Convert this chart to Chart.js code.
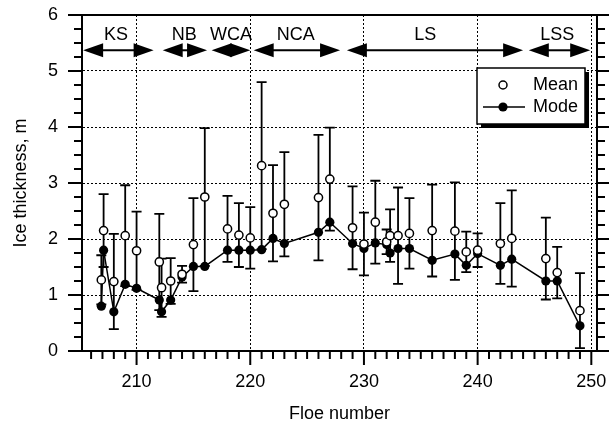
<!DOCTYPE html>
<html>
<head>
<meta charset="utf-8">
<script src="https://cdn.jsdelivr.net/npm/chart.js@4.4.1/dist/chart.umd.min.js"></script>
<style>
html, body { margin: 0; padding: 0; background: #fff; }
</style>
</head>
<body>
<canvas id="ice" width="609" height="429"></canvas>
<script>
// floe numbers (two floes sampled twice are slightly offset)
var floes = [206.9, 207.1, 208, 209, 210, 212, 212.2, 213, 214, 215, 216,
             218, 219, 220, 221, 222, 223, 226, 227, 229, 230, 231, 232, 232.3,
             233, 234, 236, 238, 239, 240, 242, 243, 246, 247, 249];
var meanThickness = [1.27, 2.15, 1.24, 2.06, 1.79, 1.59, 1.13, 1.25, 1.37, 1.90, 2.75,
                     2.18, 2.07, 2.02, 3.31, 2.46, 2.62, 2.74, 3.07, 2.20, 1.91, 2.30, 1.95, 2.06,
                     2.06, 2.10, 2.15, 2.14, 1.77, 1.80, 1.92, 2.01, 1.65, 1.40, 0.72];
var sdThickness = [0.44, 0.65, 0.85, 0.90, 0.70, 0.86, 0.52, 0.41, 0.15, 0.83, 1.23,
                   0.59, 0.57, 0.55, 1.49, 0.86, 0.93, 1.12, 0.92, 0.74, 0.56, 0.74, 0.22, 0.47,
                   0.86, 0.63, 0.82, 0.87, 0.36, 0.30, 0.72, 0.86, 0.73, 0.46, 0.67];
var modeThickness = [0.80, 1.80, 0.70, 1.19, 1.12, 0.91, 0.70, 0.91, 1.32, 1.51, 1.51,
                     1.80, 1.80, 1.80, 1.81, 2.01, 1.92, 2.12, 2.30, 1.92, 1.83, 1.93, 1.90, 1.75,
                     1.83, 1.83, 1.62, 1.73, 1.53, 1.74, 1.53, 1.64, 1.25, 1.25, 0.45];

var regionNames = ['KS', 'NB', 'WCA', 'NCA', 'LS', 'LSS'];
var regionFrom = [205.3, 212.3, 216.6, 220.3, 228.5, 244.5];
var regionTo = [211.5, 216.2, 220.0, 227.9, 244.0, 249.9];
var regionLabelAt = [208.2, 214.2, 218.3, 224.0, 235.4, 247.0];

var xTickValues = [210, 220, 230, 240, 250];
var yTickValues = [0, 1, 2, 3, 4, 5, 6];

var FONT = '"Liberation Sans", Arial, Helvetica, sans-serif';

function drawArrow(ctx, x1, x2, py) {
    var head = 20, half = 7;
    ctx.beginPath();
    ctx.moveTo(x1 + head - 2, py);
    ctx.lineTo(x2 - head + 2, py);
    ctx.stroke();
    ctx.beginPath();
    ctx.moveTo(x1, py);
    ctx.lineTo(x1 + head, py - half);
    ctx.lineTo(x1 + head, py + half);
    ctx.closePath();
    ctx.fill();
    ctx.beginPath();
    ctx.moveTo(x2, py);
    ctx.lineTo(x2 - head, py - half);
    ctx.lineTo(x2 - head, py + half);
    ctx.closePath();
    ctx.fill();
}

var extras = {
    id: 'extras',
    beforeDatasetsDraw: function(chart) {
        var ctx = chart.ctx, xs = chart.scales.x, ys = chart.scales.y;
        ctx.save();
        ctx.strokeStyle = '#000';
        ctx.lineWidth = 1.8;
        for (var i = 0; i < floes.length; i++) {
            var px = xs.getPixelForValue(floes[i]);
            var top = ys.getPixelForValue(meanThickness[i] + sdThickness[i]);
            var bot = ys.getPixelForValue(Math.max(0, meanThickness[i] - sdThickness[i]));
            ctx.beginPath();
            ctx.moveTo(px, top); ctx.lineTo(px, bot);
            ctx.moveTo(px - 5, top); ctx.lineTo(px + 5, top);
            ctx.moveTo(px - 5, bot); ctx.lineTo(px + 5, bot);
            ctx.stroke();
        }
        ctx.restore();
    },
    afterDraw: function(chart) {
        var ctx = chart.ctx, xs = chart.scales.x, ys = chart.scales.y, a = chart.chartArea;
        ctx.save();
        ctx.strokeStyle = '#000';
        ctx.fillStyle = '#000';

        // frame top + right
        ctx.lineWidth = 2;
        ctx.beginPath();
        ctx.moveTo(a.left - 14, a.top); ctx.lineTo(a.right, a.top);
        ctx.moveTo(a.right, a.top); ctx.lineTo(a.right, a.bottom);
        ctx.stroke();

        // x tick marks, every floe
        for (var v = 206; v <= 250; v++) {
            var px = xs.getPixelForValue(v);
            ctx.beginPath();
            ctx.moveTo(px, a.bottom);
            ctx.lineTo(px, a.bottom + (v % 10 === 0 ? 14 : 8));
            ctx.stroke();
        }
        // y tick marks left and right, every 0.25 m
        for (var k = 0; k <= 24; k++) {
            var py = ys.getPixelForValue(k / 4);
            var major = k % 4 === 0;
            ctx.beginPath();
            ctx.moveTo(a.left - (major ? 14 : 8), py); ctx.lineTo(a.left, py);
            ctx.moveTo(a.right, py); ctx.lineTo(a.right + (major ? 12 : 8), py);
            ctx.stroke();
        }

        // regions
        ctx.lineWidth = 2;
        var arrowY = ys.getPixelForValue(5.37);
        var labelY = ys.getPixelForValue(5.64);
        ctx.font = '18px ' + FONT;
        ctx.textAlign = 'center';
        ctx.textBaseline = 'middle';
        for (var r = 0; r < regionNames.length; r++) {
            drawArrow(ctx, xs.getPixelForValue(regionFrom[r]), xs.getPixelForValue(regionTo[r]), arrowY);
            ctx.fillText(regionNames[r], xs.getPixelForValue(regionLabelAt[r]), labelY);
        }

        // legend box
        var lx = a.right - 120, ly = 68, lw = 108, lh = 56;
        ctx.fillRect(lx + 4, ly + 4, lw, lh);
        ctx.fillStyle = '#fff';
        ctx.fillRect(lx, ly, lw, lh);
        ctx.lineWidth = 1.5;
        ctx.strokeRect(lx, ly, lw, lh);
        ctx.beginPath();
        ctx.arc(lx + 26, ly + 17, 4, 0, Math.PI * 2);
        ctx.fill();
        ctx.stroke();
        ctx.lineWidth = 1.5;
        ctx.beginPath();
        ctx.moveTo(lx + 6, ly + 39); ctx.lineTo(lx + 48, ly + 39);
        ctx.stroke();
        ctx.fillStyle = '#000';
        ctx.beginPath();
        ctx.arc(lx + 26, ly + 39, 4.6, 0, Math.PI * 2);
        ctx.fill();
        ctx.textAlign = 'left';
        ctx.fillText('Mean', lx + 56, ly + 17);
        ctx.fillText('Mode', lx + 56, ly + 39);
        ctx.restore();
    }
};

new Chart(document.getElementById('ice'), {
    type: 'line',
    data: {
        datasets: [{
            label: 'Mean',
            data: floes.map(function(f, i) { return {x: f, y: meanThickness[i]}; }),
            showLine: false,
            pointRadius: 4.1,
            pointBackgroundColor: '#fff',
            pointBorderColor: '#000',
            pointBorderWidth: 1.5
        }, {
            label: 'Mode',
            data: floes.map(function(f, i) { return {x: f, y: modeThickness[i]}; }),
            borderColor: '#000',
            borderWidth: 1.5,
            pointRadius: 4.6,
            pointBorderWidth: 0,
            pointBackgroundColor: '#000',
            tension: 0
        }]
    },
    options: {
        responsive: false,
        animation: false,
        layout: { padding: { top: 15, right: 12, left: 0, bottom: 0 } },
        plugins: {
            legend: { display: false },
            tooltip: { enabled: false }
        },
        scales: {
            x: {
                type: 'linear',
                min: 205.2,
                max: 250.5,
                afterBuildTicks: function(scale) {
                    scale.ticks = xTickValues.map(function(v) { return {value: v}; });
                },
                afterFit: function(scale) {
                    scale.height = 78;
                    scale.paddingLeft = 0;
                    scale.paddingRight = 0;
                },
                grid: { color: '#000', lineWidth: 1, drawTicks: false },
                border: { display: true, color: '#000', width: 2, dash: [2, 2] },
                ticks: {
                    color: '#000',
                    padding: 20,
                    maxRotation: 0,
                    autoSkip: false,
                    font: { family: FONT, size: 18 }
                },
                title: {
                    display: true,
                    text: 'Floe number',
                    color: '#000',
                    font: { family: FONT, size: 18 },
                    padding: { top: 0, bottom: 4 }
                }
            },
            y: {
                min: 0,
                max: 6,
                afterBuildTicks: function(scale) {
                    scale.ticks = yTickValues.map(function(v) { return {value: v}; });
                },
                afterFit: function(scale) {
                    scale.width = 82;
                    scale.paddingTop = 0;
                    scale.paddingBottom = 0;
                },
                grid: {
                    lineWidth: 1,
                    drawTicks: false,
                    color: function(c) {
                        return (c.tick && c.tick.value > 0 && c.tick.value < 6) ? '#000' : 'rgba(0,0,0,0)';
                    }
                },
                border: { display: true, color: '#000', width: 2, dash: [2, 2] },
                ticks: {
                    color: '#000',
                    padding: 24,
                    font: { family: FONT, size: 18 }
                },
                title: {
                    display: true,
                    text: 'Ice thickness, m',
                    color: '#000',
                    font: { family: FONT, size: 18 },
                    padding: { top: 10, bottom: 0 }
                }
            }
        }
    },
    plugins: [extras]
});
</script>
</body>
</html>
